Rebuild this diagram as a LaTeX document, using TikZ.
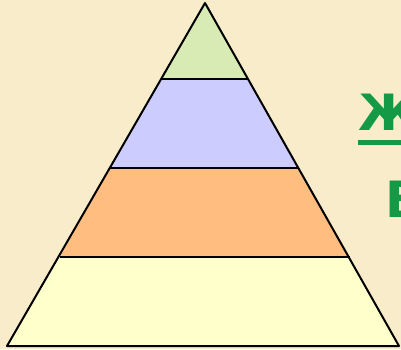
\documentclass[tikz,border=0pt]{standalone}
\usepackage{fontspec}
\newfontfamily\labelfont{DejaVu Sans}
\definecolor{bg}{RGB}{248,236,202}
\definecolor{lvlA}{RGB}{216,235,180}
\definecolor{lvlB}{RGB}{204,204,255}
\definecolor{lvlC}{RGB}{255,190,128}
\definecolor{lvlD}{RGB}{255,255,204}
\definecolor{txtgreen}{RGB}{20,154,70}
\tikzset{
  band/.style={draw=black, line width=2pt, line join=round},
  sidelabel/.style={font=\labelfont\bfseries\fontsize{50}{50}\selectfont, text=txtgreen, inner sep=0pt, anchor=base west}
}
\begin{document}
\begin{tikzpicture}[x=1pt,y=1pt]
\useasboundingbox (0,0) rectangle (401,349);
\clip (0,0) rectangle (401,349);
\fill[bg] (0,0) rectangle (401,349);
% levels (image y -> 349 - y)
\coordinate (apex) at (205,346);
\coordinate (l1) at (161,270); \coordinate (r1) at (248,270);
\coordinate (l2) at (110,181); \coordinate (r2) at (299,181);
\coordinate (l3) at (60,92);   \coordinate (r3) at (350,92);
\coordinate (l4) at (7,3);     \coordinate (r4) at (399,3);
\fill[lvlA] (apex) -- (r1) -- (l1) -- cycle;
\fill[lvlB] (l1) -- (r1) -- (r2) -- (l2) -- cycle;
\fill[lvlC] (l2) -- (r2) -- (r3) -- (l3) -- cycle;
\fill[lvlD] (l3) -- (r3) -- (r4) -- (l4) -- cycle;
\draw[band] (l1) -- (r1);
\draw[band] (l2) -- (r2);
\draw[band] (l3) -- (r3);
\draw[band] (apex) -- (r4) -- (l4) -- cycle;
% text
\node[sidelabel] (t1) at (358,219) {Ж};
\fill[txtgreen] (358,204.5) rectangle (401,209.5);
\node[sidelabel] (t2) at (385,132) {В};
\end{tikzpicture}
\end{document}
